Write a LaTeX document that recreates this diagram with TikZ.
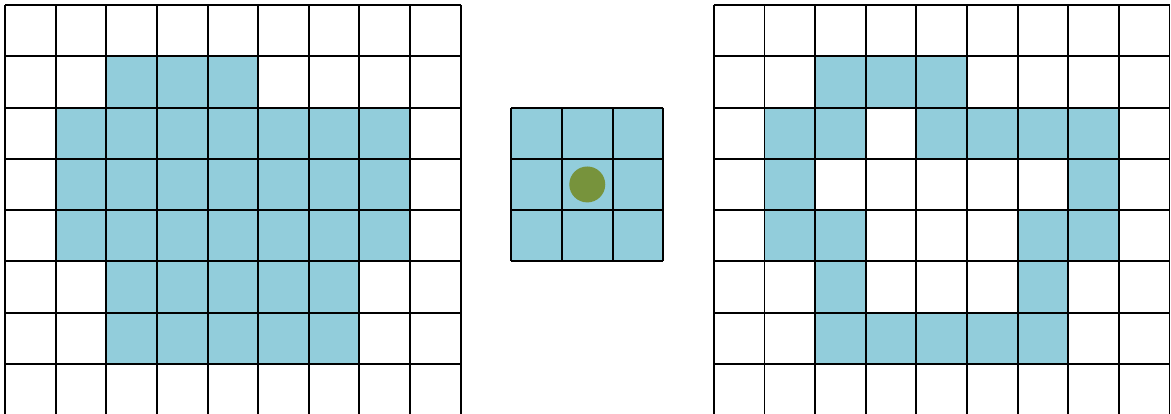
\documentclass[tikz,border=0pt]{standalone}
\usepackage{tikz}
\definecolor{cellblue}{RGB}{146,205,219}
\definecolor{seedgreen}{RGB}{119,147,60}

\begin{document}
\begin{tikzpicture}[x=1cm, y=1.012cm,
    cell/.style={fill=cellblue},
    gridline/.style={line width=1.1pt, black}]
    \useasboundingbox (-0.1,-7.98) rectangle (23.03,0.1);

    % Left grid: the set A (rows counted from the top)
    \foreach \r/\a/\b in {1/2/4, 2/1/7, 3/1/7, 4/1/7, 5/2/6, 6/2/6}
        \fill[cell] (\a,-\r) rectangle (\b+1,-\r-1);
    \foreach \i in {0,...,9}
        \draw[gridline] (\i,0) -- (\i,-8);
    \foreach \j in {0,...,8}
        \draw[gridline] (0,-\j) -- (9,-\j);

    % Structuring element with its origin
    \fill[cell] (10,-5) rectangle (13,-2);
    \foreach \i in {10,...,13}
        \draw[gridline] (\i,-2) -- (\i,-5);
    \foreach \j in {2,...,5}
        \draw[gridline] (10,-\j) -- (13,-\j);
    \node[circle, fill=seedgreen, inner sep=0pt, minimum size=0.71cm] (origin) at (11.5,-3.5) {};

    % Right grid: the boundary of A
    \foreach \r/\a/\b in {1/2/4, 2/1/2, 2/4/7, 3/1/1, 3/7/7, 4/1/2, 4/6/7, 5/2/2, 5/6/6, 6/2/6}
        \fill[cell] (14+\a,-\r) rectangle (15+\b,-\r-1);
    \foreach \i in {14,...,23}
        \draw[gridline] (\i,0) -- (\i,-8);
    \foreach \j in {0,...,8}
        \draw[gridline] (14,-\j) -- (23,-\j);
\end{tikzpicture}
\end{document}
